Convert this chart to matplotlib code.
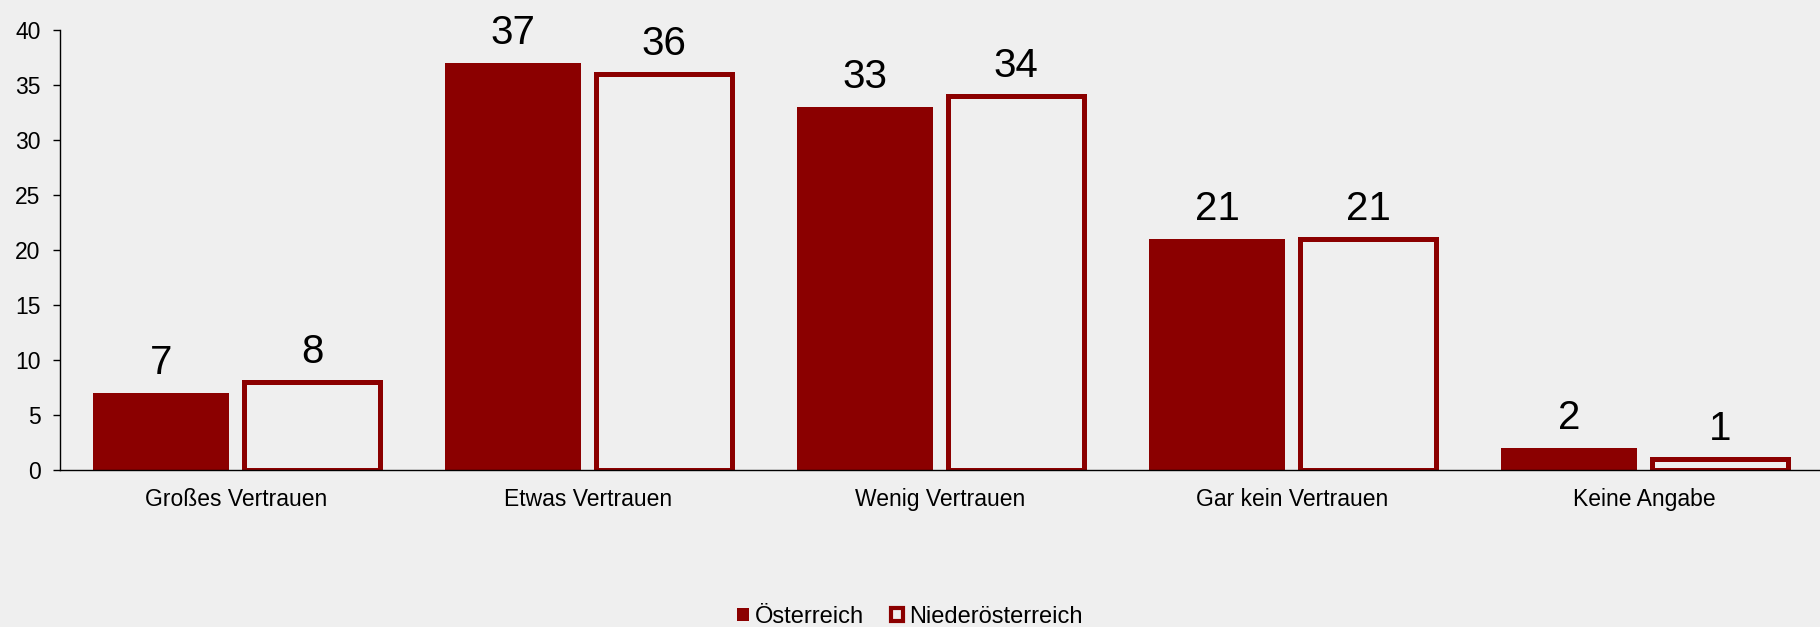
import matplotlib.pyplot as plt
import numpy as np
from matplotlib.patches import Patch

categories = ["Großes Vertrauen", "Etwas Vertrauen", "Wenig Vertrauen",
              "Gar kein Vertrauen", "Keine Angabe"]
oesterreich = [7, 37, 33, 21, 2]
niederoesterreich = [8, 36, 34, 21, 1]

RED = "#8B0000"
BG = "#EFEFEF"

plt.rcParams["font.family"] = ["Liberation Sans", "DejaVu Sans"]

fig = plt.figure(figsize=(18.2, 6.27), dpi=100, facecolor=BG)
ax = fig.add_axes([0.033, 0.25, 0.967, 0.702])
ax.set_facecolor(BG)

x = np.arange(len(categories))
w = 0.386
b1 = ax.bar(x - 0.213, oesterreich, w, color=RED, edgecolor="none")
b2 = ax.bar(x + 0.216, niederoesterreich, w, facecolor="none",
            edgecolor=RED, linewidth=3.6)

for bars, vals in [(b1, oesterreich), (b2, niederoesterreich)]:
    for rect, v in zip(bars, vals):
        ax.annotate(str(v), (rect.get_x() + rect.get_width() / 2, v),
                    xytext=(0, 14), textcoords="offset points",
                    ha="center", va="baseline", fontsize=29)

ax.set_xlim(-0.5, len(categories) - 0.5)
ax.set_ylim(0, 40)
ax.set_yticks(range(0, 41, 5))
ax.set_xticks(x)
ax.set_xticklabels(categories, fontsize=16.5)
ax.tick_params(axis="y", labelsize=16.5, length=5, width=1, direction="out", pad=9)
ax.tick_params(axis="x", length=0, pad=13)
for s in ["top", "right"]:
    ax.spines[s].set_visible(False)
ax.spines["left"].set_linewidth(1)
ax.spines["bottom"].set_linewidth(1)

handles = [Patch(facecolor=RED, edgecolor="none", label="Österreich"),
           Patch(facecolor="none", edgecolor=RED, linewidth=3,
                 label="Niederösterreich")]
fig.legend(handles=handles, loc="lower center", bbox_to_anchor=(0.5, -0.035),
           ncol=2, frameon=False, fontsize=17, handlelength=0.5,
           handleheight=0.5, handletextpad=0.25, columnspacing=1.15)

fig.savefig("out.png", dpi=100, facecolor=BG)
